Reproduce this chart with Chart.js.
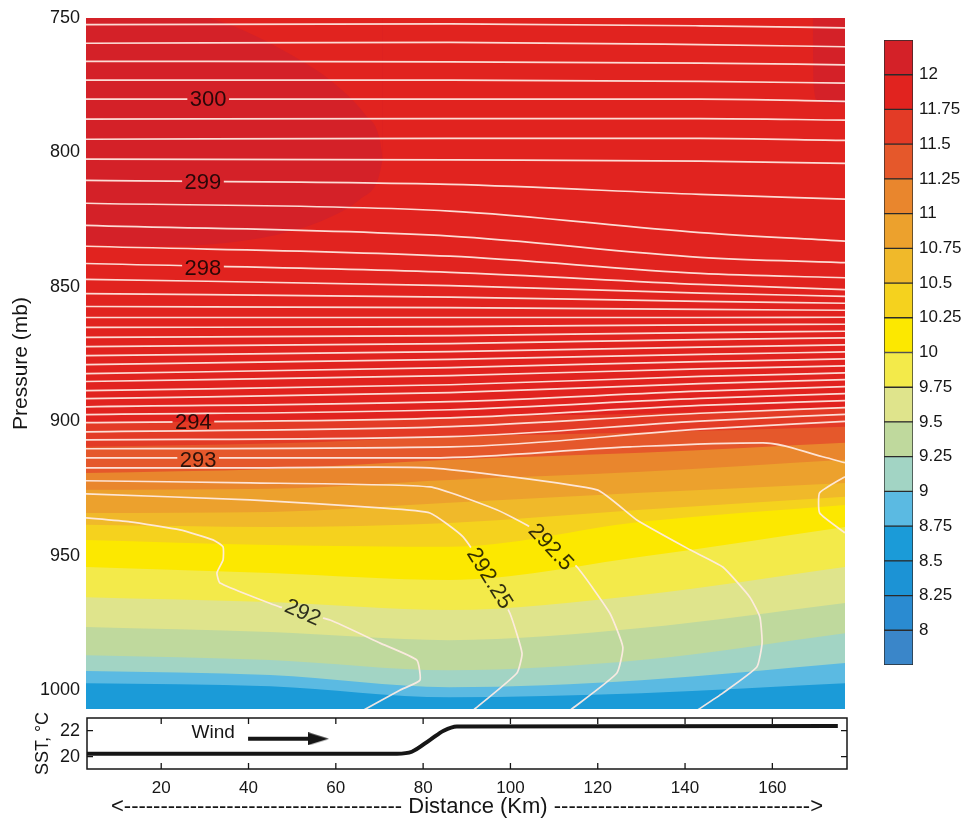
<!DOCTYPE html>
<html>
<head>
<meta charset="utf-8">
<script src="https://cdn.jsdelivr.net/npm/chart.js@4.4.1/dist/chart.umd.min.js"></script>
<style>
html,body{margin:0;padding:0;background:#fff;}
#wrap{position:relative;width:969px;height:822px;overflow:hidden;}
#wrap canvas{position:absolute;left:0;top:0;}
</style>
</head>
<body>
<div id="wrap">
<canvas id="main" width="969" height="822"></canvas>
<canvas id="sst" width="969" height="822"></canvas>
<canvas id="cbar" width="969" height="822"></canvas>
</div>
<script>
const FONT = "'Liberation Sans', Arial, Helvetica, sans-serif";
const INK = '#161616';

// ---------- tick labels ----------
const pressureTicks = [750, 800, 850, 900, 950, 1000];
const distanceTicks = [20, 40, 60, 80, 100, 120, 140, 160];
const sstTicks = [20, 22];
const colorbarTicks = [8, 8.25, 8.5, 8.75, 9, 9.25, 9.5, 9.75, 10, 10.25, 10.5, 10.75, 11, 11.25, 11.5, 11.75, 12];

// ---------- colour bar ----------
const colorbarEdges = [7.75, 8, 8.25, 8.5, 8.75, 9, 9.25, 9.5, 9.75, 10, 10.25, 10.5, 10.75, 11, 11.25, 11.5, 11.75, 12, 12.25];
const bandColors = ['#3a86c9','#2a8bd1','#1c93d5','#1b9bd8','#5bbae2','#a2d4c4','#bfd99d','#dfe48c','#f3ea4a','#fce800',
                    '#f5d21e','#f0b92a','#eca12d','#e9862d','#e5582b','#e33b26','#e1231f','#d42128'];

// ---------- filled field: pressure (mb) of each band boundary at five distances (km) ----------
const bandLevels   = [11.75, 11.5, 11.25, 11, 10.75, 10.5, 10.25, 10, 9.75, 9.5, 9.25, 9, 8.75];
const bandStations = [2.8, 45, 86, 130, 176.7];
const bandP_3   = [900.5, 909.5, 919.2, 925.5, 934.1, 938.5, 944.1, 954.2, 965.4, 976.5, 987.0, 992.9, 997.4];
const bandP_45  = [899.8, 908.3, 917.7, 925.1, 933.7, 939.3, 946.0, 956.4, 967.2, 978.4, 988.8, 994.4, 998.5];
const bandP_86  = [898.3, 905.7, 914.3, 921.8, 930.3, 937.8, 946.7, 959.0, 970.2, 981.4, 992.6, 998.9, 1002.6];
const bandP_130 = [897.2, 904.2, 911.7, 918.8, 926.6, 932.9, 937.4, 950.4, 964.6, 976.9, 988.8, 996.3, 1001.1];
const bandP_177 = [894.6, 902.0, 908.0, 914.3, 922.9, 928.1, 931.1, 939.3, 954.2, 967.6, 978.8, 989.9, 997.4];

// >12 region (upper-left lobe and upper-right corner)
const lobeDistance    = [2.8, 17.5, 35.8, 49.5, 58.7, 65.6, 69.7, 70.8];
const lobePressure    = [834.2, 834.9, 833.5, 829.4, 824.1, 817.4, 810.0, 802.5];
const lobeTopDistance = [30.5, 39.2, 49.5, 59.9, 66.7, 70.1, 70.8];
const lobeTopPressure = [749.6, 754.8, 763.4, 774.6, 785.8, 795.1, 802.5];
const cornerDistance  = [169.3, 169.5, 170.5, 176.7];
const cornerPressure  = [749.0, 775.0, 781.0, 782.0];

// ---------- potential temperature contours (K) ----------
const thetaLevels   = [301, 300.75, 300.5, 300.25, 300, 299.75, 299.5, 299.25, 299, 298.75, 298.5, 298.25, 298, 297.75, 297.5, 297.25,
                       297, 296.75, 296.5, 296.25, 296, 295.75, 295.5, 295.25, 295, 294.75, 294.5, 294.25, 294, 293.75, 293.5, 293.25];
const thetaStations = [2.8, 86.2, 143.5, 176.7];
const thetaP_west = [752.5, 759.4, 766.1, 773.1, 780.2, 787.6, 795.1, 802.5, 810.4, 818.9, 827.1, 834.9, 841.3, 847.2, 852.5, 857.3,
                     861.4, 865.1, 868.8, 872.2, 875.6, 878.9, 882.3, 885.2, 888.6, 891.6, 894.6, 897.5, 900.5, 903.9, 906.9, 910.2];
const thetaP_mid  = [752.2, 759.1, 766.3, 773.1, 780.2, 787.4, 794.8, 802.8, 811.9, 821.8, 831.1, 838.6, 844.6, 849.5, 853.8, 857.7,
                     861.4, 864.8, 868.1, 871.1, 874.1, 877.0, 880.0, 883.0, 886.4, 889.3, 892.7, 895.7, 898.7, 902.0, 905.7, 909.5];
const thetaP_east = [752.9, 759.9, 766.8, 773.6, 780.2, 787.4, 794.8, 803.2, 815.6, 829.8, 839.0, 845.0, 849.1, 852.3, 855.4, 858.4,
                     861.4, 864.1, 867.0, 869.6, 872.4, 875.1, 877.8, 880.5, 883.3, 886.0, 888.8, 891.5, 894.1, 897.0, 899.9, 902.9];
const thetaP_edge = [753.7, 760.7, 767.4, 774.2, 781.0, 788.0, 795.5, 804.1, 817.4, 833.0, 841.0, 846.6, 851.0, 853.5, 856.1, 858.7,
                     861.3, 863.9, 866.5, 869.0, 871.6, 874.2, 876.8, 879.4, 882.0, 884.5, 887.1, 889.7, 892.3, 894.9, 897.4, 900.0];

const theta293Distance = [2.8, 81.6, 127.4, 157.9, 171.6, 176.7];
const theta293Pressure = [913.6, 913.6, 909.5, 908.0, 913.2, 915.4];
const edgeLoopDistance = [176.7, 170.9, 170.9, 176.7];
const edgeLoopPressure = [920.6, 926.6, 934.1, 941.5];

const c29275Distance = [2.8, 40.4, 81.6, 119.9, 129.0, 141.2, 148.7, 154.9, 157.2, 157.7, 156.5, 148.7, 142.8];
const c29275Pressure = [917.3, 917.3, 917.3, 925.5, 936.7, 947.8, 954.2, 965.4, 972.8, 982.5, 991.4, 1001.1, 1007.5];
const c2925Distance  = [2.8, 40.4, 81.6, 96.9, 104.5, 109.1, 115.3, 122.8, 125.8, 124.4, 113.7];
const c2925Pressure  = [922.1, 922.9, 924.4, 932.9, 939.3, 946.3, 954.2, 971.3, 984.0, 993.7, 1007.5];
const c29225Distance = [2.8, 40.4, 70.2, 81.6, 89.2, 95.4, 99.9, 102.7, 101.5, 91.5];
const c29225Pressure = [927.0, 929.2, 932.2, 934.1, 943.0, 958.3, 971.3, 986.2, 993.7, 1007.5];
const c292Distance   = [2.8, 12.9, 24.35, 31.9, 34.2, 34.2, 32.8, 33.5, 47.3, 58.7, 70.2, 78.6, 79.3, 74.7, 66.3];
const c292Pressure   = [935.9, 937.4, 940.4, 944.1, 946.7, 951.6, 956.4, 960.1, 969.1, 973.9, 982.5, 988.8, 996.3, 1000.0, 1007.5];

const contourLabels = ['300', '299', '298', '294', '293', '292', '292.25', '292.5'];
const labelDistance = [30.8, 29.6, 29.6, 27.4, 28.5, 52.5, 95.4, 109.4];
const labelPressure = [780.2, 811.1, 842.8, 900.2, 914.3, 970.9, 958.3, 946.7];
const labelAngle    = [0, 0, 0, 0, 0, 24, 58, 47];

// ---------- SST panel ----------
const sstDistance = [3, 74, 77.4, 81.6, 84.7, 87.7, 175];
const sstValue    = [20.23, 20.23, 20.38, 21.3, 22.0, 22.33, 22.36];
const windLabel = 'Wind';
const windLabelAt = [31.9, 21.82];
const windArrowDistance = [39.9, 53.7];
const windArrowHeadAt = [56.0];
const windArrowSST = 21.38;

// ================= helpers =================
const pts = (xs, ys) => xs.map((x, i) => ({x, y: ys[i]}));
const CONTOUR = 'rgba(255,236,228,0.92)';
function contourDS(data, smooth) {
  return {data, borderColor: CONTOUR, borderWidth: 1.7, pointRadius: 0, fill: false, order: 0, isContour: true,
          tension: smooth ? 0.4 : 0.15, cubicInterpolationMode: smooth ? 'monotone' : 'default', spanGaps: false};
}
function fillDS(data, color, toValue, order) {
  return {data, borderColor: 'rgba(0,0,0,0)', borderWidth: 1, pointRadius: 0, backgroundColor: color,
          fill: {value: toValue}, order, tension: 0.4, cubicInterpolationMode: 'monotone'};
}

// ================= main field chart =================
const datasets = [];
datasets.push(fillDS([{x: 2.8, y: 750}, {x: 176.7, y: 750}], bandColors[16], 1010, 30));
datasets.push(fillDS(pts(lobeDistance, lobePressure), bandColors[17], 750, 29));
datasets.push(fillDS(pts(lobeTopDistance, lobeTopPressure), bandColors[16], 750, 28));
datasets.push(fillDS(pts(cornerDistance, cornerPressure), bandColors[17], 750, 27));
const bandCols = [bandP_3, bandP_45, bandP_86, bandP_130, bandP_177];
bandLevels.forEach((lev, i) => {
  const colorIdx = colorbarEdges.indexOf(lev) - 1;
  datasets.push(fillDS(bandStations.map((x, j) => ({x, y: bandCols[j][i]})), bandColors[colorIdx], 1010, 1 + (bandLevels.length - 1 - i)));
});
const thetaCols = [thetaP_west, thetaP_mid, thetaP_east, thetaP_edge];
thetaLevels.forEach((t, i) => {
  datasets.push(contourDS(thetaStations.map((x, j) => ({x, y: thetaCols[j][i]})), true));
});
datasets.push(contourDS(pts(theta293Distance, theta293Pressure), true));
datasets.push(contourDS(pts(edgeLoopDistance, edgeLoopPressure), false));
datasets.push(contourDS(pts(c29275Distance, c29275Pressure), false));
datasets.push(contourDS(pts(c2925Distance, c2925Pressure), false));
datasets.push(contourDS(pts(c29225Distance, c29225Pressure), false));
datasets.push(contourDS(pts(c292Distance, c292Pressure), false));

function labelBoxes(chart) {
  const {x, y} = chart.scales;
  const ctx = chart.ctx;
  ctx.save();
  ctx.font = '22px ' + FONT;
  const boxes = contourLabels.map((t, i) => ({
    t, w: ctx.measureText(t).width + 5, h: labelAngle[i] ? 15 : 12,
    cx: x.getPixelForValue(labelDistance[i]), cy: y.getPixelForValue(labelPressure[i]),
    a: labelAngle[i] * Math.PI / 180
  }));
  ctx.restore();
  return boxes;
}
const labelPlugin = {
  id: 'contourLabels',
  beforeDatasetDraw(chart, args) {
    const ds = chart.data.datasets[args.index];
    if (!ds.isContour) return;
    const ctx = chart.ctx;
    ctx.save();
    ctx.beginPath();
    ctx.rect(0, 0, chart.width, chart.height);
    labelBoxes(chart).forEach(b => {
      const c = Math.cos(b.a), s = Math.sin(b.a);
      const p = [[-b.w/2, -b.h/2], [b.w/2, -b.h/2], [b.w/2, b.h/2], [-b.w/2, b.h/2]]
        .map(([u, v]) => [b.cx + u*c - v*s, b.cy + u*s + v*c]);
      ctx.moveTo(p[0][0], p[0][1]);
      for (let k = 1; k < 4; k++) ctx.lineTo(p[k][0], p[k][1]);
      ctx.closePath();
    });
    ctx.clip('evenodd');
  },
  afterDatasetDraw(chart, args) {
    const ds = chart.data.datasets[args.index];
    if (!ds.isContour) return;
    chart.ctx.restore();
  },
  afterDatasetsDraw(chart) {
    const ctx = chart.ctx;
    const boxes = labelBoxes(chart);
    ctx.save();
    ctx.font = '22px ' + FONT;
    ctx.fillStyle = 'rgba(0,0,0,0.8)';
    ctx.textAlign = 'center';
    ctx.textBaseline = 'middle';
    boxes.forEach(b => {
      ctx.save();
      ctx.translate(b.cx, b.cy);
      ctx.rotate(b.a);
      ctx.fillText(b.t, 0, 1);
      ctx.restore();
    });
    ctx.restore();
  }
};

new Chart(document.getElementById('main'), {
  type: 'line',
  data: {datasets},
  options: {
    responsive: false, animation: false, events: [],
    layout: {padding: {left: 9, top: 18, right: 969 - 845, bottom: 822 - 709}},
    plugins: {legend: {display: false}, tooltip: {enabled: false}},
    scales: {
      x: {type: 'linear', min: 2.8, max: 176.7, display: false},
      y: {
        type: 'linear', reverse: true, min: 750, max: 1007,
        afterBuildTicks: s => { s.ticks = pressureTicks.map(v => ({value: v})); },
        afterFit: s => { s.width = 86 - 9; },
        grid: {display: false, drawTicks: false}, border: {display: false},
        ticks: {padding: 6, color: INK, font: {family: FONT, size: 18}, callback: v => String(v)},
        title: {display: true, text: 'Pressure (mb)', color: INK, font: {family: FONT, size: 21}, padding: {top: 0, bottom: 0}}
      }
    }
  },
  plugins: [labelPlugin]
});

// ================= SST panel =================
const head = document.createElement('canvas');
head.width = 21; head.height = 13;
(() => { const c = head.getContext('2d'); c.fillStyle = INK; c.beginPath(); c.moveTo(0, 0); c.lineTo(21, 6.5); c.lineTo(0, 13); c.closePath(); c.fill(); })();

const sstFrame = {
  id: 'sstFrame',
  afterDatasetsDraw(chart) {
    const {ctx, chartArea: a, scales: {x, y}} = chart;
    ctx.save();
    ctx.strokeStyle = INK;
    ctx.lineWidth = 1.5;
    ctx.strokeRect(a.left, a.top, a.right - a.left, a.bottom - a.top);
    ctx.lineWidth = 1.3;
    ctx.beginPath();
    distanceTicks.forEach(v => {
      const px = x.getPixelForValue(v);
      ctx.moveTo(px, a.bottom); ctx.lineTo(px, a.bottom - 6);
      ctx.moveTo(px, a.top); ctx.lineTo(px, a.top + 6);
    });
    sstTicks.forEach(v => {
      const py = y.getPixelForValue(v);
      ctx.moveTo(a.left, py); ctx.lineTo(a.left + 6, py);
      ctx.moveTo(a.right, py); ctx.lineTo(a.right - 6, py);
    });
    ctx.stroke();
    ctx.font = '19px ' + FONT;
    ctx.fillStyle = INK;
    ctx.textAlign = 'center';
    ctx.textBaseline = 'middle';
    ctx.fillText(windLabel, x.getPixelForValue(windLabelAt[0]), y.getPixelForValue(windLabelAt[1]));
    ctx.restore();
  }
};

const distTitle = '<' + '-'.repeat(38) + ' Distance (Km) ' + '-'.repeat(35) + '>';

new Chart(document.getElementById('sst'), {
  type: 'line',
  data: {datasets: [
    {data: pts(sstDistance, sstValue), borderColor: INK, borderWidth: 4, pointRadius: 0, fill: false, tension: 0.3, cubicInterpolationMode: 'monotone'},
    {data: windArrowDistance.map(x => ({x, y: windArrowSST})), borderColor: INK, borderWidth: 4, pointRadius: 0, fill: false},
    {data: windArrowHeadAt.map(x => ({x, y: windArrowSST})), showLine: false, pointStyle: head, pointRadius: 10, borderColor: INK, backgroundColor: INK}
  ]},
  options: {
    responsive: false, animation: false, events: [],
    layout: {padding: {left: 28, top: 718, right: 969 - 847, bottom: 0}},
    plugins: {legend: {display: false}, tooltip: {enabled: false}},
    scales: {
      x: {
        type: 'linear', min: 3, max: 177.1,
        afterBuildTicks: s => { s.ticks = distanceTicks.map(v => ({value: v})); },
        afterFit: s => { s.height = 822 - 769; },
        grid: {display: false, drawTicks: false}, border: {display: false},
        ticks: {padding: 9, color: INK, font: {family: FONT, size: 17}, maxRotation: 0, callback: v => String(v)},
        title: {display: true, text: distTitle, color: INK, font: {family: FONT, size: 22}, padding: {top: 0, bottom: 2}}
      },
      y: {
        type: 'linear', min: 19.05, max: 22.98,
        afterBuildTicks: s => { s.ticks = sstTicks.map(v => ({value: v})); },
        afterFit: s => { s.width = 87 - 28; },
        grid: {display: false, drawTicks: false}, border: {display: false},
        ticks: {padding: 7, color: INK, font: {family: FONT, size: 18}, callback: v => String(v)},
        title: {display: true, text: 'SST, °C', color: INK, font: {family: FONT, size: 18}, padding: {top: 4, bottom: 0}}
      }
    }
  },
  plugins: [sstFrame]
});

// ================= colour bar =================
new Chart(document.getElementById('cbar'), {
  type: 'bar',
  data: {
    labels: ['q'],
    datasets: bandColors.map((c, i) => ({
      data: [[colorbarEdges[i], colorbarEdges[i + 1]]],
      backgroundColor: c, borderColor: '#2b2b2b', borderWidth: 1, borderSkipped: false,
      barPercentage: 1, categoryPercentage: 1
    }))
  },
  options: {
    responsive: false, animation: false, events: [],
    layout: {padding: {left: 884, top: 40, right: 0, bottom: 822 - 665}},
    plugins: {legend: {display: false}, tooltip: {enabled: false}},
    scales: {
      x: {display: false, stacked: true},
      y: {
        position: 'right', min: 7.75, max: 12.25, stacked: false,
        afterBuildTicks: s => { s.ticks = colorbarTicks.map(v => ({value: v})); },
        afterFit: s => { s.width = 969 - 913; },
        grid: {display: false, drawTicks: false}, border: {display: false},
        ticks: {padding: 6, color: INK, font: {family: FONT, size: 17}, callback: v => String(v)}
      }
    }
  }
});
</script>
</body>
</html>
